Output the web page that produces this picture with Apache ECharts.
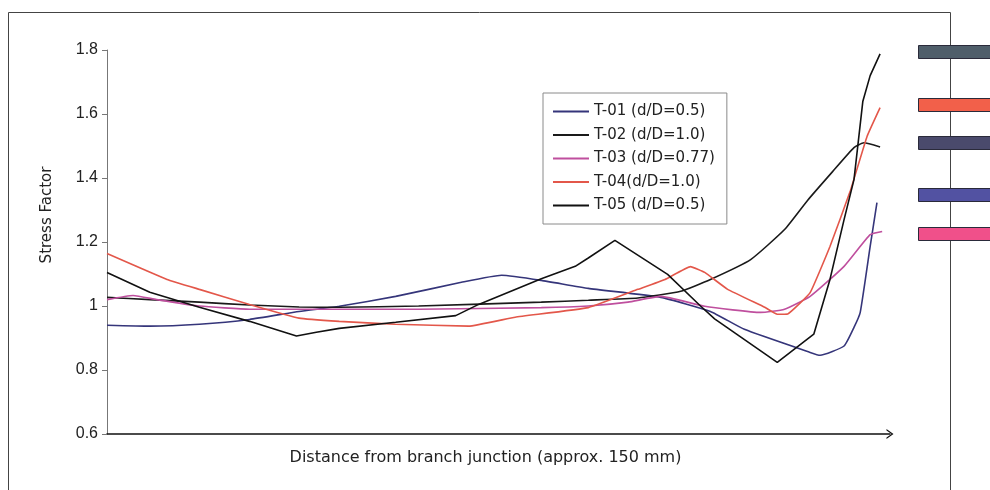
<!DOCTYPE html>
<html>
<head>
<meta charset="utf-8">
<script src="https://cdn.jsdelivr.net/npm/echarts@6/dist/echarts.min.js"></script>
<style>
  html, body { margin: 0; background: #fff; }
  #chart { width: 990px; height: 490px; }
</style>
</head>
<body>
<div id="chart"></div>
<script>
// distance in mm (0..150), stress factor
const seriesNames = ["T-01 (d/D=0.5)", "T-02 (d/D=1.0)", "T-03 (d/D=0.77)", "T-04(d/D=1.0)", "T-05 (d/D=0.5)"];

const t01Points = [
  [0, 0.94], [8.2, 0.937], [17.7, 0.943], [27.3, 0.958], [36.8, 0.983], [44.5, 0.999],
  [55.3, 1.03], [67.9, 1.074], [75.6, 1.096], [83.2, 1.08], [92.2, 1.055], [106.1, 1.027],
  [115.6, 0.983], [122.1, 0.927], [134.7, 0.855], [136.6, 0.846], [141.2, 0.875],
  [143.1, 0.933], [144.3, 0.98], [146.2, 1.186], [147.5, 1.323]
];
const t02Points = [
  [0, 1.027], [8.2, 1.02], [17.7, 1.012], [27.3, 1.003], [36.8, 0.997], [44.5, 0.996],
  [59.7, 1.0], [83.2, 1.012], [92.2, 1.018], [101.7, 1.025], [109.9, 1.046], [115.6, 1.083],
  [123.3, 1.145], [129.8, 1.239], [134.2, 1.33], [139, 1.42], [143.1, 1.495], [145, 1.51],
  [148.1, 1.497]
];
const t03Points = [
  [0, 1.02], [5, 1.033], [9.5, 1.02], [17.7, 1.0], [27.3, 0.99], [42.6, 0.99], [59.7, 0.99],
  [83.2, 0.995], [92.2, 1.0], [99.8, 1.012], [106.1, 1.03], [114.5, 0.999], [125.2, 0.98],
  [129.8, 0.99], [134.7, 1.03], [141.2, 1.124], [146.2, 1.223], [148.5, 1.233]
];
const t04Points = [
  [0, 1.164], [11.5, 1.083], [17.7, 1.052], [27.3, 1.005], [36.8, 0.962], [44.5, 0.952],
  [55.3, 0.943], [69.3, 0.937], [78.2, 0.965], [92.2, 0.995], [101.7, 1.052], [106.9, 1.083],
  [111.8, 1.123], [114.5, 1.105], [118.9, 1.052], [126, 0.996], [128.4, 0.974], [130.4, 0.975],
  [134.7, 1.042], [138.5, 1.186], [142.4, 1.36], [145.6, 1.53], [148.1, 1.62]
];
const t05Points = [
  [0, 1.105], [8.2, 1.043], [17.7, 0.996], [27.3, 0.952], [36.3, 0.906], [40.1, 0.918],
  [44.5, 0.93], [55.3, 0.949], [66.8, 0.97], [71.2, 1.005], [83.2, 1.085], [89.7, 1.124],
  [92.2, 1.15], [97.3, 1.205], [107.4, 1.099], [113.7, 1.0], [116.4, 0.96], [128.4, 0.824],
  [135.4, 0.912], [138.5, 1.083], [141.2, 1.27], [143.1, 1.395], [144.8, 1.64], [146.2, 1.72],
  [148.1, 1.788]
];

const yMin = 0.6;
const yMax = 1.8;
const yStep = 0.2;

const lineColors = ["#35357a", "#1a1a1a", "#bf4f9e", "#e3574a", "#111111"];
const swatchColors = ["#4f5e6a", "#f2604a", "#4a4a6c", "#5252a2", "#f0508a"];
const swatchTops = [45, 98, 136, 188, 227];

const chart = echarts.init(document.getElementById("chart"));
const FONT = "Liberation Sans, Arial, sans-serif";
const WIDE_FONT = "DejaVu Sans, sans-serif";

const allPoints = [t01Points, t02Points, t03Points, t04Points, t05Points];
const smoothing = [0.15, 0.15, 0.15, 0.1, 0];

chart.setOption({
  backgroundColor: "#fff",
  animation: false,
  grid: { left: 107, right: 100, top: 50, bottom: 56 },
  legend: {
    orient: "vertical",
    left: 543,
    top: 93,
    padding: [11, 12, 11, 10],
    itemGap: 8.5,
    icon: "rect",
    itemWidth: 36,
    itemHeight: 2,
    backgroundColor: "#fff",
    borderColor: "#8a8a8a",
    borderWidth: 1,
    textStyle: { fontFamily: WIDE_FONT, fontSize: 15, color: "#222" },
    data: seriesNames
  },
  xAxis: {
    type: "value",
    min: 0,
    max: 150,
    name: "Distance from branch junction (approx. 150 mm)",
    nameLocation: "middle",
    nameGap: 16,
    nameTextStyle: { fontFamily: WIDE_FONT, fontSize: 16, color: "#222", padding: [0, 26, 0, 0] },
    axisLine: {
      onZero: false,
      lineStyle: { color: "#111", width: 1.5 },
      symbol: ["none", "path://M0,7 L5,0 L10,7 L8.6,7 L5,2 L1.4,7 Z"],
      symbolSize: [10, 7]
    },
    axisTick: { show: false },
    axisLabel: { show: false },
    splitLine: { show: false }
  },
  yAxis: {
    type: "value",
    min: yMin,
    max: yMax,
    interval: yStep,
    name: "Stress Factor",
    nameLocation: "middle",
    nameGap: 52,
    nameTextStyle: { fontFamily: WIDE_FONT, fontSize: 15, color: "#222", padding: [0, 0, 0, 54] },
    axisLine: { show: true, lineStyle: { color: "#777", width: 1 } },
    axisTick: { show: true, length: 5, lineStyle: { color: "#777" } },
    axisLabel: {
      fontFamily: FONT,
      fontSize: 16,
      color: "#222",
      margin: 9,
      formatter: (v) => String(Math.round(v * 10) / 10)
    },
    splitLine: { show: false }
  },
  series: allPoints.map((points, i) => ({
    name: seriesNames[i],
    type: "line",
    data: points,
    symbol: "none",
    smooth: smoothing[i],
    lineStyle: { color: lineColors[i], width: 1.6 },
    itemStyle: { color: lineColors[i] }
  })),
  graphic: [
    {
      type: "rect",
      silent: true,
      shape: { x: 8.5, y: 12.5, width: 942, height: 490 },
      style: { fill: "none", stroke: "#444", lineWidth: 1 }
    },
    ...swatchTops.map((top, i) => ({
      type: "rect",
      silent: true,
      shape: { x: 918.5, y: top + 0.5, width: 80, height: 13 },
      style: { fill: swatchColors[i], stroke: "#2a2a3a", lineWidth: 1 }
    }))
  ]
});

window.addEventListener("resize", () => chart.resize());
</script>
</body>
</html>
